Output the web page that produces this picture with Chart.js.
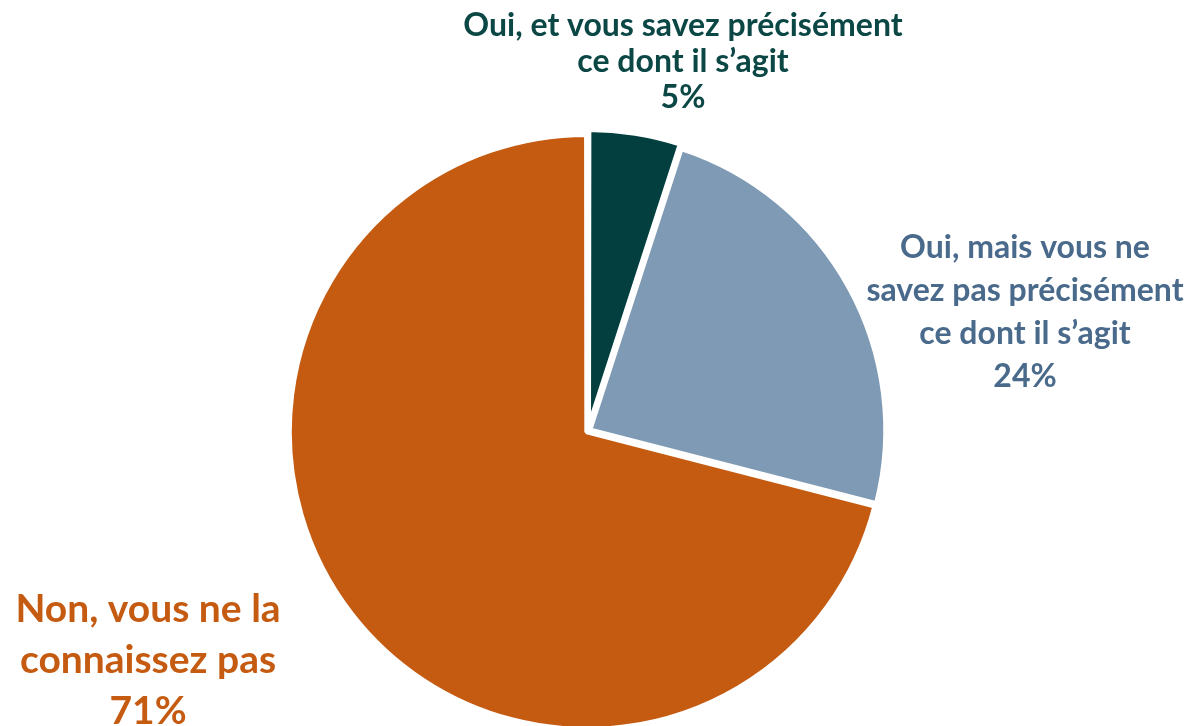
<!DOCTYPE html>
<html>
<head>
<meta charset="utf-8">
<script src="https://cdn.jsdelivr.net/npm/chart.js@4"></script>
<style>
  html, body { margin: 0; padding: 0; background: #fff; }
  #wrap { width: 1194px; height: 726px; position: relative; }
</style>
</head>
<body>
<div id="wrap"><canvas id="pie"></canvas></div>
<script>
// Awareness pie: three exploded slices with outside labels

var categories = [
  ['Oui, et vous savez précisément', 'ce dont il s\u2019agit'],
  ['Oui, mais vous ne', 'savez pas précisément', 'ce dont il s\u2019agit'],
  ['Non, vous ne la', 'connaissez pas']
];
var values = [5, 24, 71];

var sliceColors = ['#023f3e', '#7f9ab4', '#c55a11'];
var textColors = ['#0b4745', '#4a6a8c', '#c55a11'];

// label placement (style only)
var labelStyle = [
  { x: 683, y: 36, lineHeight: 36, size: 32 },
  { x: 1025, y: 258, lineHeight: 43, size: 32 },
  { x: 148, y: 622, lineHeight: 51, size: 39 }
];

var outsideLabels = {
  id: 'outsideLabels',
  afterDraw: function (chart) {
    var ctx = chart.ctx;
    ctx.save();
    ctx.textAlign = 'center';
    ctx.textBaseline = 'alphabetic';
    categories.forEach(function (lines, i) {
      var s = labelStyle[i];
      var all = lines.concat([values[i] + '%']);
      ctx.fillStyle = textColors[i];
      ctx.font = 'bold ' + s.size + 'px Lato, "Open Sans", sans-serif';
      all.forEach(function (t, j) {
        ctx.fillText(t, s.x, s.y + j * s.lineHeight);
      });
    });
    ctx.restore();
  }
};

new Chart(document.getElementById('pie'), {
  type: 'pie',
  data: {
    labels: categories.map(function (c) { return c.join(' '); }),
    datasets: [{
      data: values,
      backgroundColor: sliceColors,
      borderColor: '#ffffff',
      borderWidth: 5,
      offset: [13, 8, 6],
      clip: false
    }]
  },
  options: {
    responsive: true,
    maintainAspectRatio: false,
    animation: false,
    radius: 296,
    rotation: 0,
    layout: { padding: { left: 0, right: 18, top: 136, bottom: 0 } },
    plugins: {
      legend: { display: false },
      tooltip: { enabled: false }
    }
  },
  plugins: [outsideLabels]
});
</script>
</body>
</html>
